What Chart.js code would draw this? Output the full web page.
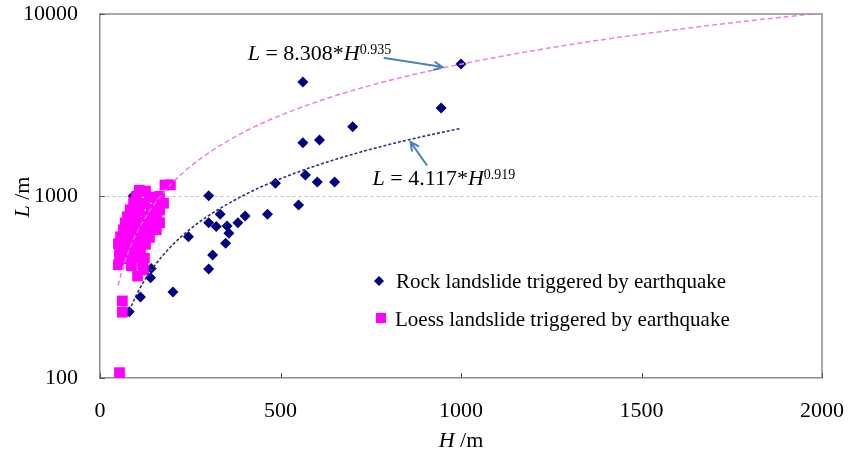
<!DOCTYPE html>
<html>
<head>
<meta charset="utf-8">
<script src="https://cdn.jsdelivr.net/npm/chart.js@4/dist/chart.umd.min.js"></script>
<style>
  html, body { margin: 0; padding: 0; background: #fff; }
  #wrap { width: 849px; height: 453px; }
</style>
</head>
<body>
<div id="wrap"><canvas id="c" width="849" height="453"></canvas></div>
<script>
// Rock landslides triggered by earthquake: fall height H (m) and runout L (m)
const rockH = [81, 112, 140, 142, 202, 92, 155, 245, 301, 301, 301, 312, 322, 333, 348, 352, 357, 382, 402, 464, 486, 550, 562, 569, 602, 608, 650, 700, 945, 562, 1000];
const rockL = [231, 279, 356, 400, 297, 1000, 770, 597, 1004, 714, 397, 474, 679, 793, 550, 684, 624, 714, 777, 793, 1175, 892, 1963, 1304, 1194, 2032, 1194, 2404, 3045, 4230, 5310];

// Loess landslides triggered by earthquake
const loessH = [180, 195, 109, 126, 101, 137, 165, 93, 123, 159, 176, 84, 109, 142, 165, 76, 98, 131, 156, 70, 93, 123, 148, 165, 65, 87, 112, 137, 156, 57, 82, 109, 137, 51, 73, 101, 126, 54, 82, 112, 54, 76, 104, 123, 51, 87, 118, 120, 104, 62, 62, 54];
const loessL = [1149, 1152, 1075, 1064, 992, 985, 996, 918, 910, 922, 912, 840, 832, 845, 835, 770, 762, 772, 765, 712, 706, 716, 709, 714, 652, 646, 655, 648, 652, 597, 590, 598, 592, 547, 541, 549, 543, 501, 496, 503, 458, 452, 460, 455, 419, 414, 421, 392, 363, 265, 230, 107];

// Power-law fits L = a * H^b (coefficients as printed on the chart)
const rockFitA = 4.117, rockFitB = 0.919;
const loessFitA = 8.308, loessFitB = 0.935;
const rockFitH = [76, 85, 100, 120, 150, 200, 250, 300, 400, 500, 600, 700, 800, 900, 1000];
const loessFitH = [50, 60, 75, 90, 110, 140, 180, 230, 300, 400, 500, 650, 800, 1000, 1250, 1500, 1750, 2000];

// Axis ticks and labels
const xTicks = [0, 500, 1000, 1500, 2000];
const yTicks = [100, 1000, 10000];
const seriesNames = ['Rock landslide triggered by earthquake', 'Loess landslide triggered by earthquake'];

const SERIF = '"Liberation Serif", "Times New Roman", serif';
const NAVY = '#000080';
const MAGENTA = '#ff00ff';

const pts = (hs, ls) => hs.map((h, i) => ({ x: h, y: ls[i] }));
const fitPts = (hs, a, b) => hs.map(h => ({ x: h, y: a * Math.pow(h, b) }));

// Equation labels with arrows, positioned in data units (H, L)
const notes = [
  { coef: '8.308', exp: '0.935', at: [409, 5590], from: [788, 5730], to: [949, 5110] },
  { coef: '4.117', exp: '0.919', at: [755, 1149], from: [905, 1480], to: [860, 1985] }
];

function drawRuns(ctx, x, y, runs) {
  let cx = x;
  runs.forEach(r => {
    ctx.font = r.font;
    ctx.fillText(r.t, cx, y + (r.dy || 0));
    cx += ctx.measureText(r.t).width;
  });
  return cx - x;
}
function runsWidth(ctx, runs) {
  let w = 0;
  runs.forEach(r => { ctx.font = r.font; w += ctx.measureText(r.t).width; });
  return w;
}

const decor = {
  id: 'decor',
  afterDatasetsDraw(chart) {
    const { ctx, chartArea: a, scales: { x, y } } = chart;
    ctx.save();

    // top and right frame lines
    ctx.strokeStyle = '#8c8c8c';
    ctx.lineWidth = 1.5;
    ctx.beginPath();
    ctx.moveTo(a.left, a.top);
    ctx.lineTo(a.right, a.top);
    ctx.lineTo(a.right, a.bottom);
    ctx.stroke();

    // inward tick marks
    ctx.strokeStyle = '#555';
    ctx.lineWidth = 1;
    ctx.beginPath();
    xTicks.forEach(v => {
      const px = Math.round(x.getPixelForValue(v)) + 0.5;
      ctx.moveTo(px, a.bottom);
      ctx.lineTo(px, a.bottom - 5);
    });
    yTicks.forEach(v => {
      const py = Math.round(y.getPixelForValue(v)) + 0.5;
      ctx.moveTo(a.left, py);
      ctx.lineTo(a.left + 5, py);
    });
    ctx.stroke();

    // equations and arrows
    ctx.fillStyle = '#000';
    ctx.textBaseline = 'alphabetic';
    ctx.textAlign = 'left';
    notes.forEach(n => {
      const tx = x.getPixelForValue(n.at[0]);
      const ty = y.getPixelForValue(n.at[1]);
      drawRuns(ctx, tx, ty, [
        { t: 'L', font: 'italic 22px ' + SERIF },
        { t: ' = ' + n.coef + '*', font: '22px ' + SERIF },
        { t: 'H', font: 'italic 22px ' + SERIF },
        { t: n.exp, font: '14px ' + SERIF, dy: -6 }
      ]);
      const x1 = x.getPixelForValue(n.from[0]), y1 = y.getPixelForValue(n.from[1]);
      const x2 = x.getPixelForValue(n.to[0]), y2 = y.getPixelForValue(n.to[1]);
      const ang = Math.atan2(y2 - y1, x2 - x1);
      ctx.strokeStyle = '#4f81bd';
      ctx.lineWidth = 2;
      ctx.lineCap = 'round';
      ctx.beginPath();
      ctx.moveTo(x1, y1);
      ctx.lineTo(x2, y2);
      const hl = 9, hw = 0.45;
      ctx.moveTo(x2 - hl * Math.cos(ang - hw), y2 - hl * Math.sin(ang - hw));
      ctx.lineTo(x2, y2);
      ctx.lineTo(x2 - hl * Math.cos(ang + hw), y2 - hl * Math.sin(ang + hw));
      ctx.stroke();
    });

    // legend inside the plot area
    const lx = a.left + 279, ly = a.top + 267, gap = 37;
    ctx.font = '21px ' + SERIF;
    ctx.textBaseline = 'middle';
    ctx.fillStyle = NAVY;
    ctx.beginPath();
    ctx.moveTo(lx - 5, ly); ctx.lineTo(lx, ly - 5); ctx.lineTo(lx + 5, ly); ctx.lineTo(lx, ly + 5);
    ctx.closePath();
    ctx.fill();
    ctx.fillStyle = MAGENTA;
    ctx.fillRect(lx - 3, ly + gap - 5, 10, 10);
    ctx.fillStyle = '#000';
    ctx.fillText(seriesNames[0], lx + 17, ly + 1);
    ctx.fillText(seriesNames[1], lx + 16, ly + gap + 2);

    // axis titles
    ctx.textBaseline = 'middle';
    const xt = [
      { t: 'H', font: 'italic 22px ' + SERIF },
      { t: ' /m', font: '22px ' + SERIF }
    ];
    const xw = runsWidth(ctx, xt);
    drawRuns(ctx, (a.left + a.right) / 2 - xw / 2, 441, xt);

    const yt = [
      { t: 'L', font: 'italic 22px ' + SERIF },
      { t: ' /m', font: '22px ' + SERIF }
    ];
    const yw = runsWidth(ctx, yt);
    ctx.translate(23, y.getPixelForValue(1000) + 1);
    ctx.rotate(-Math.PI / 2);
    drawRuns(ctx, -yw / 2, 0, yt);

    ctx.restore();
  }
};

new Chart(document.getElementById('c'), {
  type: 'scatter',
  data: {
    datasets: [
      {
        type: 'line',
        label: 'Loess fit',
        data: fitPts(loessFitH, loessFitA, loessFitB),
        borderColor: '#ef7cef',
        borderWidth: 1.5,
        borderDash: [5, 3],
        pointRadius: 0,
        fill: false,
        cubicInterpolationMode: 'monotone',
        order: 0
      },
      {
        type: 'line',
        label: 'Rock fit',
        data: fitPts(rockFitH, rockFitA, rockFitB),
        borderColor: '#2e2e86',
        borderWidth: 1.6,
        borderDash: [3, 2],
        pointRadius: 0,
        fill: false,
        cubicInterpolationMode: 'monotone',
        order: 0
      },
      {
        label: seriesNames[1],
        data: pts(loessH, loessL),
        pointStyle: 'rect',
        pointRadius: 7.6,
        backgroundColor: MAGENTA,
        borderColor: MAGENTA,
        borderWidth: 0,
        order: 1
      },
      {
        label: seriesNames[0],
        data: pts(rockH, rockL),
        pointStyle: 'rectRot',
        pointRadius: 5.5,
        backgroundColor: NAVY,
        borderColor: NAVY,
        borderWidth: 0,
        order: 2
      }
    ]
  },
  options: {
    responsive: false,
    animation: false,
    events: [],
    layout: { padding: { top: 14, right: 27, left: 0, bottom: 0 } },
    plugins: {
      legend: { display: false },
      tooltip: { enabled: false }
    },
    scales: {
      x: {
        type: 'linear',
        min: 0,
        max: 2000,
        afterFit(s) { s.height = 75; s.paddingLeft = 0; s.paddingRight = 0; },
        afterBuildTicks(s) { s.ticks = xTicks.map(v => ({ value: v })); },
        ticks: {
          padding: 20,
          color: '#000',
          font: { family: SERIF, size: 22 },
          maxRotation: 0,
          callback: v => String(v)
        },
        grid: { color: 'rgba(0,0,0,0)', drawTicks: false },
        border: { display: true, color: '#8c8c8c', width: 1.5 }
      },
      y: {
        type: 'logarithmic',
        min: 100,
        max: 10000,
        afterFit(s) { s.width = 100; s.paddingTop = 0; s.paddingBottom = 0; },
        afterBuildTicks(s) { s.ticks = yTicks.map(v => ({ value: v })); },
        ticks: {
          padding: 22,
          color: '#000',
          font: { family: SERIF, size: 22 },
          callback: v => String(v)
        },
        grid: {
          color: c => (c.tick && c.tick.value === 1000 ? '#c4c4c4' : 'rgba(0,0,0,0)'),
          lineWidth: 1,
          drawTicks: false
        },
        border: { display: true, color: '#8c8c8c', width: 1.5, dash: [3, 3] }
      }
    }
  },
  plugins: [decor]
});
</script>
</body>
</html>
